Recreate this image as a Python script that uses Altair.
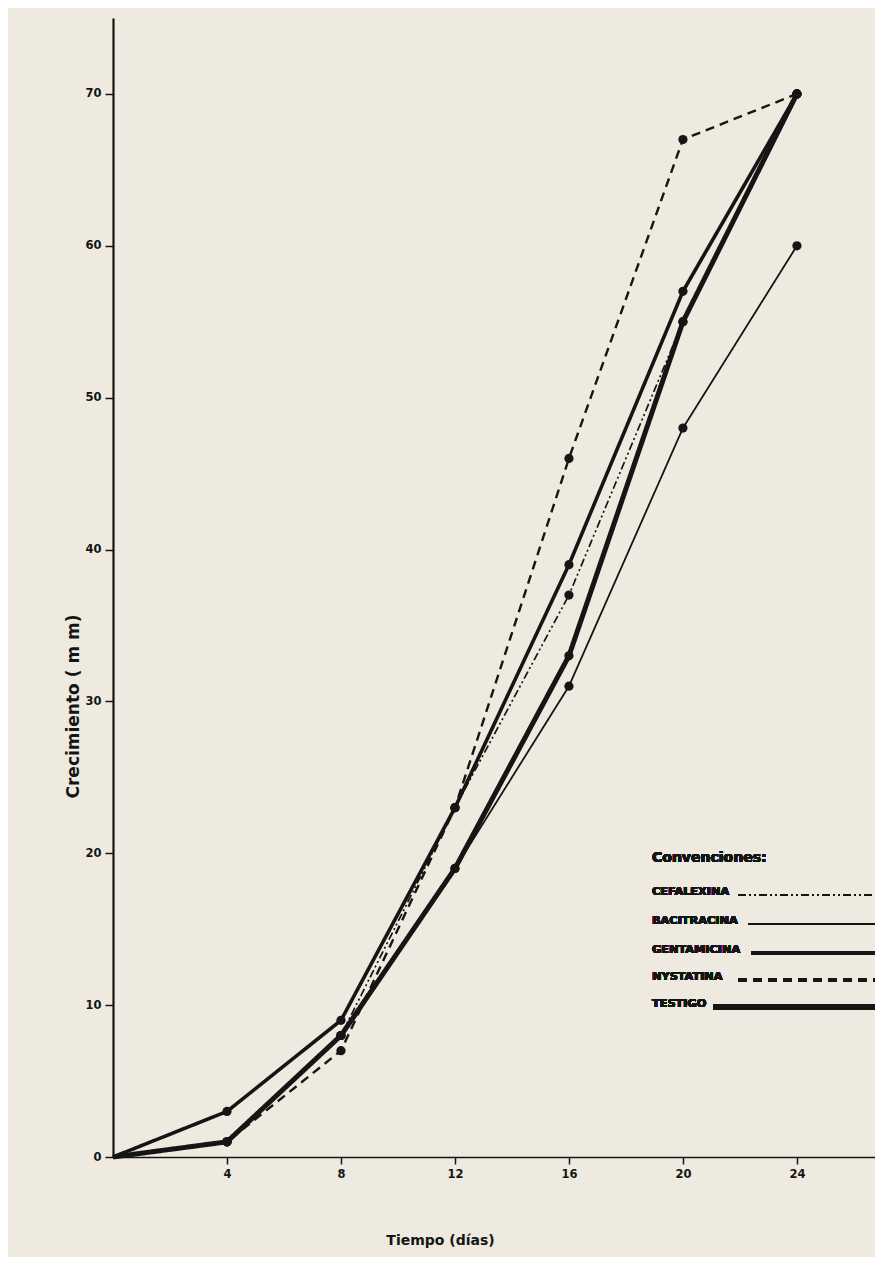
import altair as alt
import pandas as pd

# ---- data ----
dias = [0, 4, 8, 12, 16, 20, 24]
series = ["CEFALEXINA", "BACITRACINA", "GENTAMICINA", "NYSTATINA", "TESTIGO"]
cefalexina = [0, 1, 8, 23, 37, 55, 70]
bacitracina = [0, 1, 8, 19, 31, 48, 60]
gentamicina = [0, 3, 9, 23, 39, 57, 70]
nystatina = [0, 1, 7, 23, 46, 67, 70]
testigo = [0, 1, 8, 19, 33, 55, 70]
x_ticks = [4, 8, 12, 16, 20, 24]
y_ticks = [0, 10, 20, 30, 40, 50, 60, 70]

values = [cefalexina, bacitracina, gentamicina, nystatina, testigo]
rows = []
for name, vals in zip(series, values):
    for d, v in zip(dias, vals):
        rows.append({"serie": name, "dia": d, "crec": v})
df = pd.DataFrame(rows)

# ---- styles ----
INK = "#151515"
BG = "#eeeadf"
dashes = [[8, 3, 2, 3, 2, 3], [1, 0], [1, 0], [9, 6], [1, 0]]
widths = [1.7, 1.8, 3.6, 2.4, 5.0]
FONT = "DejaVu Sans"

x_enc = alt.X(
    "dia:Q",
    scale=alt.Scale(domain=[0, 26.74], nice=False, zero=True),
    axis=alt.Axis(
        values=x_ticks, title="Tiempo (días)", grid=False,
        domainColor=INK, domainWidth=1.6, tickColor=INK, tickWidth=1.5, tickSize=7,
        labelFont=FONT, labelFontWeight="bold", labelFontSize=11.5, labelColor=INK,
        labelPadding=4,
        titleFont=FONT, titleFontSize=14, titleFontWeight="bold", titleColor=INK,
        titleX=327, titleY=83, titleBaseline="middle", titleAlign="center",
    ),
)
y_enc = alt.Y(
    "crec:Q",
    scale=alt.Scale(domain=[0, 75], nice=False),
    axis=alt.Axis(
        values=y_ticks, title="Crecimiento ( m m)", grid=False,
        domainColor=INK, domainWidth=2.2, tickColor=INK, tickWidth=1.5, tickSize=8,
        labelFont=FONT, labelFontWeight="bold", labelFontSize=11.5, labelColor=INK,
        labelPadding=4,
        titleFont=FONT, titleFontSize=17, titleFontWeight="bold", titleColor=INK,
        titleX=-40, titleY=688, titleAngle=-90, titleBaseline="middle", titleAlign="center",
    ),
)

layers = []
for i, name in enumerate(series):
    enc_x = x_enc if i == 0 else alt.X("dia:Q")
    enc_y = y_enc if i == 0 else alt.Y("crec:Q")
    layers.append(
        alt.Chart(df).transform_filter(alt.datum.serie == name).mark_line(
            color=INK, strokeWidth=widths[i], strokeDash=dashes[i], strokeJoin="round"
        ).encode(x=enc_x, y=enc_y, order="dia:Q")
    )

points = alt.Chart(df).transform_filter(alt.datum.dia > 0).mark_circle(
    color=INK, size=85, opacity=1
).encode(x="dia:Q", y="crec:Q")
layers.append(points)

# ---- hand-drawn style legend (label, then a line sample) ----
OX, OY = 113, 18  # plot origin on the page
layers.append(
    alt.Chart(df).mark_text(
        text="Convenciones:", align="left", baseline="middle", font=FONT,
        fontSize=14, fontWeight="bold", color=INK
    ).encode(x=alt.value(652 - OX), y=alt.value(858 - OY))
)
label_y = [895, 924, 953, 980, 1007]
line_x0 = [738, 748, 751, 738, 713]
for i, name in enumerate(series):
    layers.append(
        alt.Chart(df).mark_text(
            text=name, align="left", baseline="alphabetic", font=FONT,
            fontSize=11.3, fontWeight="bold", color=INK
        ).encode(x=alt.value(652 - OX), y=alt.value(label_y[i] - OY))
    )
    layers.append(
        alt.Chart(df).mark_rule(
            color=INK, strokeWidth=widths[i], strokeDash=dashes[i]
        ).encode(
            x=alt.value(line_x0[i] - OX), x2=alt.value(878 - OX),
            y=alt.value(label_y[i] - OY)
        )
    )

chart = alt.layer(*layers).properties(
    width=762,
    height=1139,
    autosize=alt.AutoSizeParams(type="none"),
    padding={"left": 105, "top": 10, "right": 0, "bottom": 100},
    background=BG,
).configure_view(stroke=None)

chart.save("out.html", embed_options={"renderer": "svg", "actions": False})
